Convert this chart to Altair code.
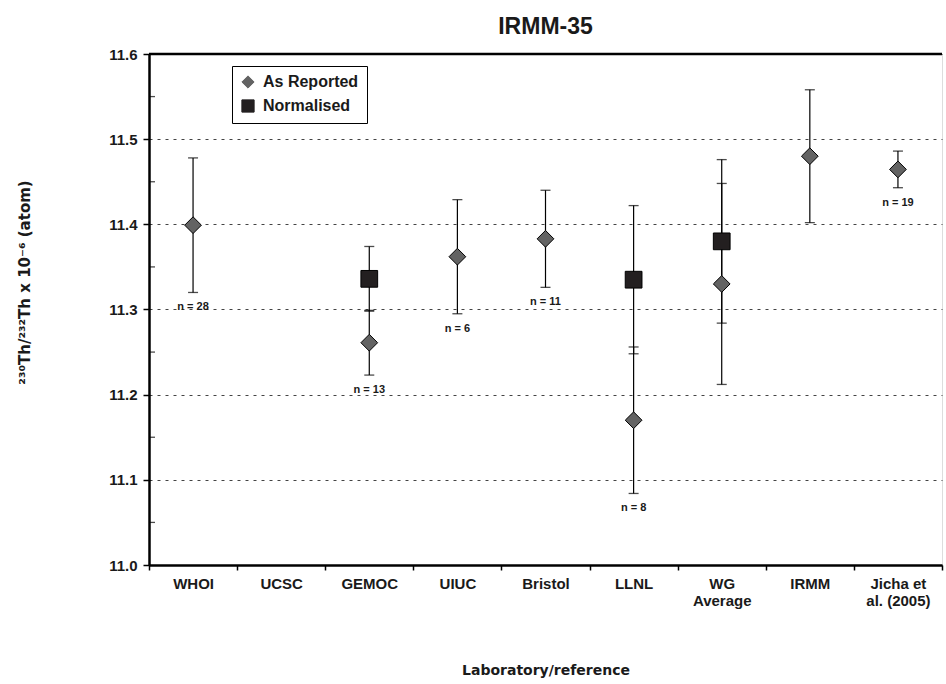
import altair as alt
import pandas as pd

labs = ["WHOI", "UCSC", "GEMOC", "UIUC", "Bristol", "LLNL", "WG|Average", "IRMM", "Jicha et|al. (2005)"]

rep_labs = ["WHOI", "GEMOC", "UIUC", "Bristol", "LLNL", "WG|Average", "IRMM", "Jicha et|al. (2005)"]
rep_vals = [11.399, 11.261, 11.362, 11.383, 11.170, 11.330, 11.480, 11.4645]
rep_errs = [0.079, 0.038, 0.067, 0.057, 0.086, 0.118, 0.078, 0.0215]
rep_n = ["n = 28", "n = 13", "n = 6", "n = 11", "n = 8", "", "", "n = 19"]

norm_labs = ["GEMOC", "LLNL", "WG|Average"]
norm_vals = [11.336, 11.335, 11.380]
norm_errs = [0.038, 0.087, 0.096]

y_ticks = [11.0, 11.1, 11.2, 11.3, 11.4, 11.5, 11.6]
y_minor = [11.05, 11.15, 11.25, 11.35, 11.45, 11.55]

series = ["As Reported", "Normalised"]

rows = []
for l, v, e, n in zip(rep_labs, rep_vals, rep_errs, rep_n):
    rows.append({"lab": l, "value": v, "lo": v - e, "hi": v + e, "series": series[0], "n": n})
for l, v, e in zip(norm_labs, norm_vals, norm_errs):
    rows.append({"lab": l, "value": v, "lo": v - e, "hi": v + e, "series": series[1], "n": ""})
df = pd.DataFrame(rows)

caps = pd.concat([
    df[["lab", "lo"]].rename(columns={"lo": "cap"}),
    df[["lab", "hi"]].rename(columns={"hi": "cap"}),
])

W, H = 793, 511
LBL = "Liberation Sans"
TFONT = "DejaVu Sans"
INK = "#1a1a1a"

xenc = alt.X(
    "lab:N",
    sort=labs,
    scale=alt.Scale(domain=labs, paddingInner=0, paddingOuter=0),
    axis=alt.Axis(
        title="Laboratory/reference",
        labelExpr="split(datum.label, '|')",
        labelAngle=0,
        labelFont=LBL,
        labelFontWeight="bold",
        labelFontSize=15,
        labelColor=INK,
        labelPadding=6,
        labelLineHeight=17,
        labelBaseline="top",
        tickBand="extent",
        tickSize=5,
        tickColor="black",
        tickWidth=1.5,
        domainColor="black",
        domainWidth=2.5,
        grid=False,
        titleFont=TFONT,
        titleFontWeight="bold",
        titleFontSize=14,
        titleColor=INK,
        titleX=W / 2,
        titleY=105,
        titleBaseline="middle",
    ),
)

yscale = alt.Scale(domain=[11.0, 11.6], nice=False, zero=False)
yaxis = alt.Axis(
    title="²³⁰Th/²³²Th x 10⁻⁶ (atom)",
    values=y_ticks,
    format=".1f",
    labelFont=LBL,
    labelFontWeight="bold",
    labelFontSize=15,
    labelColor=INK,
    labelPadding=6,
    tickSize=6,
    tickColor="black",
    tickWidth=1.5,
    domainColor="black",
    domainWidth=2.5,
    grid=True,
    gridDash=[3, 5],
    gridColor="#444444",
    gridWidth=1,
    titleFont=TFONT,
    titleFontWeight="bold",
    titleFontSize=15,
    titleColor=INK,
    titleAngle=-90,
    titleX=-125,
    titleY=228,
    titleAlign="center",
    titleBaseline="middle",
)

bars = alt.Chart(df).mark_rule(color="black", strokeWidth=1.2).encode(
    x=xenc,
    y=alt.Y("lo:Q", scale=yscale, axis=yaxis),
    y2="hi:Q",
)

cap_marks = alt.Chart(caps).mark_tick(color="black", thickness=1.3, size=10).encode(
    x=alt.X("lab:N", sort=labs),
    y=alt.Y("cap:Q"),
)

shape_scale = alt.Scale(domain=series, range=["diamond", "square"])
fill_scale = alt.Scale(domain=series, range=["#636363", "#231f20"])

points = alt.Chart(df).mark_point(filled=True, opacity=1, stroke="black", strokeWidth=1, size=280).encode(
    x=alt.X("lab:N", sort=labs),
    y=alt.Y("value:Q"),
    shape=alt.Shape("series:N", scale=shape_scale, legend=None),
    fill=alt.Fill("series:N", scale=fill_scale, legend=None),
)

legend_cfg = dict(
    title=None,
    orient="none",
    legendX=83,
    legendY=12,
    strokeColor="black",
    fillColor="white",
    padding=8,
    labelFont=LBL,
    labelFontWeight="bold",
    labelFontSize=16,
    labelColor=INK,
    symbolSize=150,
    symbolStrokeColor="black",
    symbolStrokeWidth=1,
    rowPadding=6,
    labelOffset=7,
    symbolOpacity=1,
    values=series,
)

legend_pts = alt.Chart(df).mark_point(size=0, opacity=0).encode(
    x=alt.X("lab:N", sort=labs),
    y=alt.Y("value:Q"),
    color=alt.Color("series:N", scale=fill_scale, legend=alt.Legend(**legend_cfg)),
    shape=alt.Shape("series:N", scale=shape_scale, legend=alt.Legend(**legend_cfg)),
)

nlabels = alt.Chart(df).mark_text(
    dy=15, baseline="middle", align="center", font=LBL, fontWeight="bold", fontSize=11, color=INK
).encode(
    x=alt.X("lab:N", sort=labs),
    y=alt.Y("lo:Q"),
    text="n:N",
)

minor = alt.Chart(pd.DataFrame({"m": y_minor})).mark_tick(color="black", thickness=1.3, size=6).encode(
    y=alt.Y("m:Q"),
    x=alt.value(3),
)

top_border = alt.Chart(pd.DataFrame({"t": [11.6]})).mark_rule(color="black", strokeWidth=2.5).encode(
    y=alt.Y("t:Q"),
    x=alt.value(0),
    x2=alt.value(W),
)

chart = alt.layer(bars, cap_marks, minor, top_border, legend_pts, points, nlabels).properties(
    width=W,
    height=H,
    title=alt.TitleParams(
        "IRMM-35", font=LBL, fontSize=23, fontWeight="bold", color=INK,
        anchor="middle", offset=8,
    ),
    autosize=alt.AutoSizeParams(type="none"),
    padding={"left": 149, "top": 54, "right": 4, "bottom": 119},
).configure_view(stroke="black", strokeWidth=1).configure(background="white")

chart.save("out.html", embed_options={"renderer": "svg", "actions": False})
